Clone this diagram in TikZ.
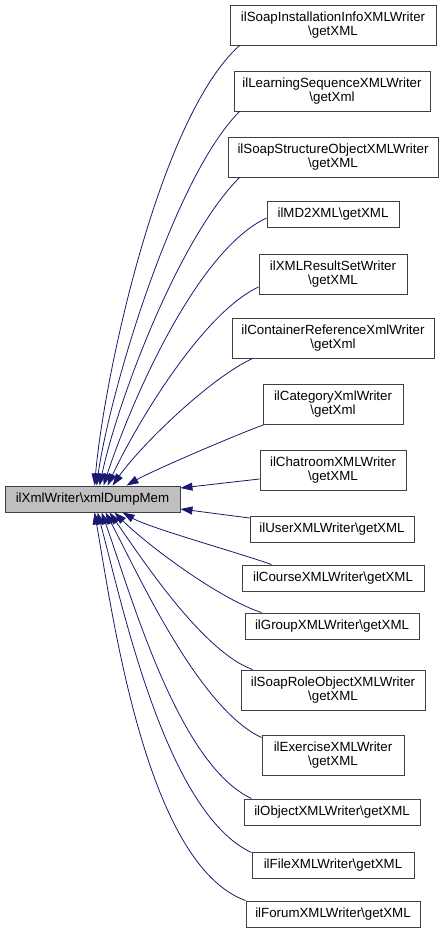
\documentclass[tikz,border=0pt]{standalone}
\usepackage{fontspec}
\setmainfont{Liberation Sans}
\usetikzlibrary{arrows.meta,positioning,calc}
\definecolor{AzulNoche}{RGB}{25,25,112}
\definecolor{BordeGris}{RGB}{64,64,64}
\definecolor{FondoGris}{RGB}{191,191,191}

\begin{document}
\begin{tikzpicture}[x=1pt, y=1pt,
    fnbox/.style={draw=BordeGris, line width=0.9pt, fill=white, inner sep=0pt, align=center,
      font=\fontsize{13.3}{13.6}\selectfont},
    focusbox/.style={fnbox, fill=FondoGris},
    callarrow/.style={AzulNoche, line width=0.8pt, -{Triangle[length=12pt,width=8pt]}}]
  \useasboundingbox (0,0) rectangle (444,-933);

  \node[focusbox, minimum width=175pt, minimum height=26pt] (dump) at (92.5,-499)
    {ilXmlWriter\textbackslash xmlDumpMem};

  \node[fnbox, minimum width=206pt, minimum height=40pt] (soapinst) at (333,-25)
    {ilSoapInstallationInfoXMLWriter\\\textbackslash getXML};
  \node[fnbox, minimum width=196pt, minimum height=40pt] (lseq) at (332,-91)
    {ilLearningSequenceXMLWriter\\\textbackslash getXml};
  \node[fnbox, minimum width=210pt, minimum height=40pt] (soapstruct) at (333,-157)
    {ilSoapStructureObjectXMLWriter\\\textbackslash getXML};
  \node[fnbox, minimum width=132pt, minimum height=26pt] (mdxml) at (333,-214)
    {ilMD2XML\textbackslash getXML};
  \node[fnbox, minimum width=148pt, minimum height=40pt] (resultset) at (333,-274)
    {ilXMLResultSetWriter\\\textbackslash getXML};
  \node[fnbox, minimum width=202pt, minimum height=40pt] (contref) at (333,-338)
    {ilContainerReferenceXmlWriter\\\textbackslash getXml};
  \node[fnbox, minimum width=140pt, minimum height=40pt] (category) at (333,-404)
    {ilCategoryXmlWriter\\\textbackslash getXml};
  \node[fnbox, minimum width=146pt, minimum height=40pt] (chatroom) at (333,-470)
    {ilChatroomXMLWriter\\\textbackslash getXML};
  \node[fnbox, minimum width=164pt, minimum height=26pt] (user) at (332,-529)
    {ilUserXMLWriter\textbackslash getXML};
  \node[fnbox, minimum width=182pt, minimum height=26pt] (course) at (333,-578)
    {ilCourseXMLWriter\textbackslash getXML};
  \node[fnbox, minimum width=174pt, minimum height=26pt] (group) at (332,-626)
    {ilGroupXMLWriter\textbackslash getXML};
  \node[fnbox, minimum width=184pt, minimum height=40pt] (soaprole) at (333,-690)
    {ilSoapRoleObjectXMLWriter\\\textbackslash getXML};
  \node[fnbox, minimum width=142pt, minimum height=40pt] (exercise) at (333,-755)
    {ilExerciseXMLWriter\\\textbackslash getXML};
  \node[fnbox, minimum width=176pt, minimum height=26pt] (object) at (332,-812)
    {ilObjectXMLWriter\textbackslash getXML};
  \node[fnbox, minimum width=162pt, minimum height=26pt] (file) at (333,-865)
    {ilFileXMLWriter\textbackslash getXML};
  \node[fnbox, minimum width=174pt, minimum height=26pt] (forum) at (333,-914)
    {ilForumXMLWriter\textbackslash getXML};

  \draw[callarrow] ([xshift=10pt]soapinst.south west) to[out=222, in=85, looseness=0.6] ([xshift=90pt]dump.north west);
  \draw[callarrow] ([xshift=6pt]lseq.south west) to[out=225, in=82, looseness=0.6] ([xshift=92pt]dump.north west);
  \draw[callarrow] ([xshift=12pt]soapstruct.south west) to[out=225, in=78, looseness=0.65] ([xshift=95pt]dump.north west);
  \draw[callarrow] ([yshift=-4pt]mdxml.west) to[out=205, in=72, looseness=0.65] ([xshift=99pt]dump.north west);
  \draw[callarrow] ([yshift=-13pt]resultset.west) to[out=205, in=65, looseness=0.65] ([xshift=103pt]dump.north west);
  \draw[callarrow] ([xshift=21pt]contref.south west) to[out=205, in=55, looseness=0.65] ([xshift=108pt]dump.north west);
  \draw[callarrow] ([xshift=2pt]category.south west) to[out=200, in=30, looseness=0.5] ([xshift=122pt]dump.north west);
  \draw[callarrow] ([yshift=-9pt]chatroom.west) -- ([yshift=11pt]dump.east);
  \draw[callarrow] ([yshift=11pt]user.west) -- ([yshift=-10pt]dump.east);
  \draw[callarrow] ([xshift=30pt]course.north west) to[out=160, in=-30, looseness=0.5] ([xshift=118pt]dump.south west);
  \draw[callarrow] ([xshift=17pt]group.north west) to[out=162, in=-45, looseness=0.65] ([xshift=110pt]dump.south west);
  \draw[callarrow] ([xshift=12pt]soaprole.north west) to[out=160, in=-55, looseness=0.65] ([xshift=105pt]dump.south west);
  \draw[callarrow] ([yshift=-3pt]exercise.north west) to[out=155, in=-62, looseness=0.65] ([xshift=101pt]dump.south west);
  \draw[callarrow] ([xshift=8pt]object.north west) to[out=155, in=-70, looseness=0.65] ([xshift=97pt]dump.south west);
  \draw[callarrow] ([yshift=-1pt]file.north west) to[out=155, in=-75, looseness=0.65] ([xshift=93pt]dump.south west);
  \draw[callarrow] (forum.north west) to[out=160, in=-80, looseness=0.65] ([xshift=90pt]dump.south west);
\end{tikzpicture}
\end{document}
